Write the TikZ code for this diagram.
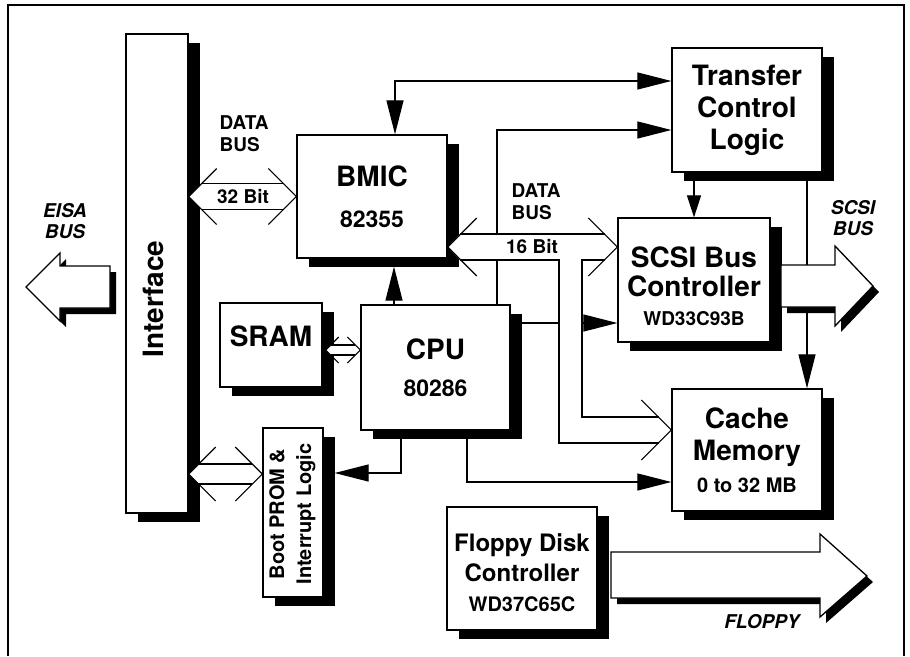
\documentclass[tikz,border=0pt]{standalone}
\usepackage{fontspec}
\setmainfont{TeX Gyre Heros}
\usetikzlibrary{arrows.meta,shadows}
\newcommand\fsz[2]{\fontsize{#1}{#2}\selectfont}
\newcommand\hbus[4]{%
  \fill[white] (#1) -- ([shift={(#3,-#3)}]#1) -- ([shift={(-#3,-#3)}]#2) -- (#2) -- ([shift={(-#3,#3)}]#2) -- ([shift={(#3,#3)}]#1) -- cycle;
  \draw ([shift={(#3,-#3)}]#1) -- ([shift={(-#3,-#3)}]#2) ([shift={(#3,#3)}]#1) -- ([shift={(-#3,#3)}]#2);
  \draw ([shift={(#4,-#4)}]#1) -- (#1) -- ([shift={(#4,#4)}]#1) ([shift={(-#4,-#4)}]#2) -- (#2) -- ([shift={(-#4,#4)}]#2);
}
\tikzset{
  blk/.style={draw, line width=1.3pt, fill=white, inner sep=0pt, align=center,
    drop shadow={shadow xshift=12pt, shadow yshift=-9pt, opacity=1, fill=black}},
  big/.style={font=\bfseries\fsz{28}{#1}},
  tag/.style={font=\bfseries\fsz{19}{22}, align=left},
  itag/.style={font=\bfseries\itshape\fsz{19}{21}, align=center},
  arr/.style={-{Triangle[length=34pt,width=17pt]}},
  arrs/.style={-{Triangle[length=22pt,width=14pt]}},
  dbl/.style={{Triangle[length=34pt,width=17pt]}-{Triangle[length=34pt,width=17pt]}},
}
\begin{document}
\begin{tikzpicture}[x=1pt, y=-1pt, line width=1.2pt, every node/.style={inner sep=0pt}]
\useasboundingbox (0,0) rectangle (910,656);
\draw[line width=1.3pt] (8,656) -- (8,5) -- (904,5) -- (904,656);

\node[blk, minimum width=62pt, minimum height=479pt] (iface) at (157,273.5) {};
\node[big=30, rotate=90] (ifacelbl) at (153,299) {Interface};
\node[blk, big=41, minimum width=150pt, minimum height=123pt] (bmic) at (372,196.5) {BMIC\\\fsz{23}{23}82355};
\node[blk, big=32, minimum width=150pt, minimum height=124pt] (tcl) at (747,110) {Transfer\\Control\\Logic};
\node[blk, big=29, minimum width=152pt, minimum height=124pt] (scsi) at (694,280) {\rule{0pt}{33pt}SCSI Bus\\Controller\\\fsz{19}{19}WD33C93B};
\node[blk, big=32, minimum width=150pt, minimum height=122pt] (cache) at (747,450) {Cache\\Memory\\\fsz{20}{20}0 to 32 MB};
\node[blk, big=37, minimum width=149pt, minimum height=125pt] (cpu) at (435.5,367.5) {CPU\\\fsz{23}{23}80286};
\node[blk, big=30, text depth=18pt, minimum width=102pt, minimum height=84pt] (sram) at (271,345) {SRAM};
\node[blk, minimum width=60pt, minimum height=169pt] (boot) at (293,512.5) {};
\node[font=\bfseries\fsz{20}{27}, rotate=90, align=center] (bootlbl) at (292.5,514) {Boot PROM \&\\Interrupt Logic};
\node[blk, font=\bfseries\fsz{24}{30}, minimum width=150pt, minimum height=123pt] (floppy) at (522,568.5) {\rule{0pt}{27pt}Floppy Disk\\Controller\\\fsz{20}{20}WD37C65C};

\coordinate (tclhi) at ([yshift=29pt]tcl.west);
\coordinate (tcllo) at ([yshift=-20pt]tcl.west);
\coordinate (scsiin) at ([yshift=-43pt]scsi.west);
\coordinate (cachein) at ([yshift=-32pt]cache.west);
\coordinate (bootin) at ([xshift=11pt,yshift=39.5pt]boot.east);
\draw[dbl] ([xshift=23pt]bmic.north) |- (tclhi);
\draw[arr] ([xshift=61.5pt]cpu.north) |- (tcllo);
\draw[arr] ([xshift=-41.5pt]cpu.north) -- ([xshift=22pt,yshift=-8pt]bmic.south);
\draw[arrs] (tcl.south -| scsi.north) -- (scsi.north);
\draw[arr] ([xshift=60pt]tcl.south) -- ([xshift=60pt]cache.north);
\draw[arr] (scsiin -| cpu.east) -- (scsiin);
\draw[arr] ([xshift=31.5pt]cpu.south) |- (cachein);
\draw[arr] ([xshift=-34.5pt]cpu.south) |- (bootin);

\coordinate (b32a) at (iface.east |- bmic.west);
\hbus{b32a}{bmic.west}{13}{28}
\coordinate (bb) at ([yshift=38.5pt]boot.west);
\coordinate (ba) at (iface.east |- bb);
\hbus{ba}{bb}{10}{27}
\coordinate (sc) at ([yshift=17.5pt]cpu.west);
\coordinate (sa) at ([xshift=3pt]sram.east |- sc);
\hbus{sa}{sc}{5}{13}

\coordinate (d16a) at ([yshift=-50.5pt]bmic.east);
\coordinate (d16b) at ([yshift=33pt]scsi.west);
\coordinate (d16c) at ([yshift=20pt]cache.west);
\fill[white] (d16a) -- (460,234) -- (605,234) -- (d16b) -- (605,260) -- (582,260) -- (582,417) -- (659,417) -- (d16c) -- (659,443) -- (559,443) -- (559,260) -- (460,260) -- cycle;
\draw (460,234) -- (605,234) (460,260) -- (559,260) -- (559,443) -- (659,443) (605,260) -- (582,260) -- (582,417) -- (659,417);
\foreach \t/\dx/\dy in {d16a/29/29, d16b/-29/29, d16c/-30/30}
  \draw ([shift={(\dx,-\dy)}]\t) -- (\t) -- ([shift={(\dx,\dy)}]\t);

\foreach \s/\c/\d in {6/black/none, 0/white/black}{
  \path[fill=\c, draw=\d, line width=1.3pt, shift={(\s,\s)}] (26,287) -- (60,253) -- (60,266) -- (110,266) -- (110,308) -- (60,308) -- (60,321) -- cycle;
  \path[fill=\c, draw=\d, line width=1.3pt, shift={(\s,\s)}] (781,265) -- (835,265) -- (835,246) -- (873,286) -- (835,326) -- (835,307) -- (781,307) -- cycle;
  \path[fill=\c, draw=\d, line width=1.3pt, shift={(\s,\s)}] (611,552) -- (820,552) -- (820,534) -- (867,576) -- (820,617) -- (820,598) -- (611,598) -- cycle;
}

\node[tag, anchor=north west] (bus32) at (219,115) {DATA\\BUS};
\node[tag, anchor=north west] (bus16) at (511,183) {DATA\\BUS};
\node[tag] (w32) at (243,196.5) {32 Bit};
\node[tag] (w16) at (532,247) {16 Bit};
\node[itag] (eisa) at (65,221.5) {EISA\\BUS};
\node[itag] (scsibus) at (853,218) {SCSI\\BUS};
\node[itag] (flop) at (762,622) {FLOPPY};
\end{tikzpicture}
\end{document}
